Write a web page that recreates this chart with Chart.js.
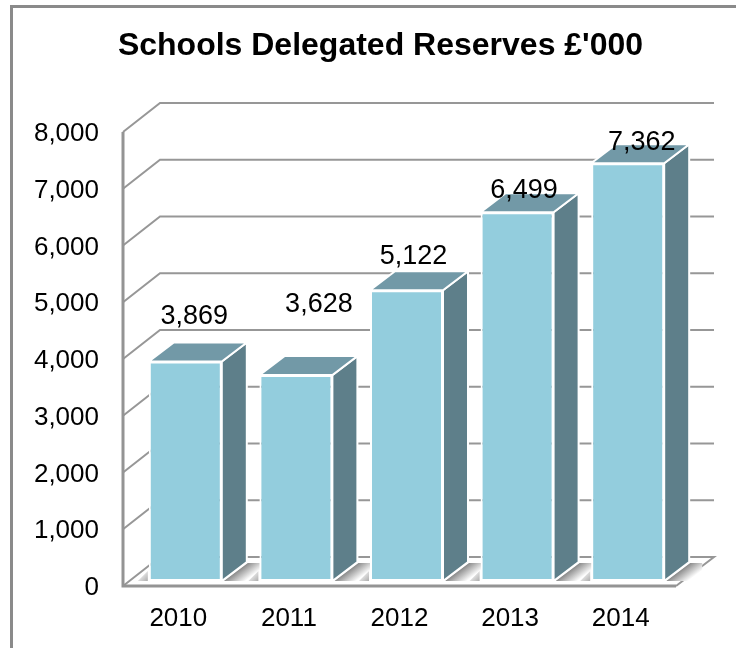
<!DOCTYPE html>
<html>
<head>
<meta charset="utf-8">
<style>html,body{margin:0;padding:0;background:#fff}canvas{display:block}</style>
<script src="https://cdn.jsdelivr.net/npm/chart.js@4/dist/chart.umd.min.js"></script>
</head>
<body>
<canvas id="chart" width="736" height="648"></canvas>
<script>
const years = ['2010', '2011', '2012', '2013', '2014'];
const reserves = [3869, 3628, 5122, 6499, 7362];
const titleText = "Schools Delegated Reserves £'000";
const yMax = 8000;
const yStep = 1000;
// Hand-placed value labels, relative to the top of each bar's front face
const labelNudgeX = [16, 30, 14, 14, 21];
const labelNudgeY = [-45, -71, -34, -22, -21];

const FONT = '"Liberation Sans", Arial, sans-serif';
const WALL = { dx: 37, dy: 29 };      // depth of the back wall
const BAR_SHIFT = { dx: 7, dy: -5 };  // bars stand part way into the floor
const BAR_DEPTH = { dx: 25, dy: 19 };
const FRONT = '#93CDDD', TOP_FACE = '#7299A7', SIDE_FACE = '#5E7F8A', GRID = '#979797';

function line(ctx, pts, color, width) {
  ctx.beginPath();
  pts.forEach((p, i) => i ? ctx.lineTo(p[0], p[1]) : ctx.moveTo(p[0], p[1]));
  ctx.strokeStyle = color;
  ctx.lineWidth = width;
  ctx.stroke();
}
function face(ctx, pts, fill, stroke) {
  ctx.beginPath();
  pts.forEach((p, i) => i ? ctx.lineTo(p[0], p[1]) : ctx.moveTo(p[0], p[1]));
  ctx.closePath();
  ctx.fillStyle = fill;
  ctx.fill();
  if (stroke) {
    ctx.strokeStyle = stroke;
    ctx.lineWidth = 2;
    ctx.stroke();
  }
}

const pseudo3d = {
  id: 'pseudo3d',
  afterLayout(chart) {
    // Left padding centres the title; give the tick labels room to its left
    chart.scales.y.left = 20;
  },
  beforeDraw(chart) {
    // Outer frame: only the left and top edges are present
    const ctx = chart.ctx;
    ctx.save();
    line(ctx, [[11.5, 648], [11.5, 6.5], [736, 6.5]], '#8a8a8a', 3);
    ctx.restore();
  },
  beforeDatasetsDraw(chart) {
    const ctx = chart.ctx, y = chart.scales.y, a = chart.chartArea;
    const backRight = a.right + WALL.dx + 1;
    ctx.save();
    for (let v = yStep; v <= yMax; v += yStep) {
      const py = y.getPixelForValue(v);
      line(ctx, [[a.left, py], [a.left + WALL.dx, py - WALL.dy], [backRight, py - WALL.dy]], GRID, 2);
    }
    // Floor
    const y0 = y.getPixelForValue(0);
    line(ctx, [[a.left, y0], [a.left + WALL.dx, y0 - WALL.dy], [backRight, y0 - WALL.dy], [a.right, y0]], GRID, 2);
    line(ctx, [[a.left, y.getPixelForValue(yMax)], [a.left, y0], [a.right, y0]], '#949494', 3);

    ctx.translate(BAR_SHIFT.dx, BAR_SHIFT.dy);
    const bars = chart.getDatasetMeta(0).data;
    bars.forEach((b) => {
      const l = b.x - b.width / 2, r = b.x + b.width / 2;
      const { dx, dy } = BAR_DEPTH;
      // Soft shadow cast on the floor beside the bar, darkest along its edge
      const g = ctx.createLinearGradient(r + 12, b.base - 10, r + 21, b.base + 2);
      g.addColorStop(0, '#787878');
      g.addColorStop(1, '#ffffff');
      face(ctx, [[r + 2, b.base], [r + dx + 1, b.base - dy + 1], [r + dx + 13, b.base - dy + 1], [r + dx + 13, b.base - 6], [r + 28, b.base]], g);
      const c = ctx.createLinearGradient(l - 9, b.base - 9, l, b.base);
      c.addColorStop(0, '#ffffff');
      c.addColorStop(1, '#a8a8a8');
      face(ctx, [[l - 1, b.base], [l - 1, b.base - 10], [l - 11, b.base]], c);
      face(ctx, [[r, b.y], [r + dx, b.y - dy], [r + dx, b.base - dy], [r, b.base]], SIDE_FACE, '#ffffff');
      face(ctx, [[l, b.y], [l + dx, b.y - dy], [r + dx, b.y - dy], [r, b.y]], TOP_FACE, '#ffffff');
    });
  },
  afterDatasetsDraw(chart) {
    const ctx = chart.ctx;
    ctx.restore();
    ctx.save();
    ctx.font = '27px ' + FONT;
    ctx.fillStyle = '#000';
    ctx.textAlign = 'center';
    ctx.textBaseline = 'middle';
    chart.getDatasetMeta(0).data.forEach((b, i) => {
      ctx.fillText(reserves[i].toLocaleString('en-US'), b.x + labelNudgeX[i], b.y + BAR_SHIFT.dy + labelNudgeY[i]);
    });
    ctx.restore();
  }
};

new Chart(document.getElementById('chart'), {
  type: 'bar',
  data: {
    labels: years,
    datasets: [{
      data: reserves,
      backgroundColor: FRONT,
      borderColor: '#ffffff',
      borderWidth: 2,
      borderSkipped: false,
      barPercentage: 0.66,
      categoryPercentage: 1,
      clip: false
    }]
  },
  options: {
    responsive: false,
    animation: false,
    layout: { padding: { left: 85, right: 60, top: 0, bottom: 0 } },
    plugins: {
      legend: { display: false },
      tooltip: { enabled: false },
      title: {
        display: true,
        text: titleText,
        color: '#000',
        font: { family: FONT, size: 32, weight: 'bold', lineHeight: 1.2 },
        padding: { top: 27, bottom: 66.6 }
      }
    },
    scales: {
      x: {
        grid: { display: false, drawTicks: false },
        border: { display: false },
        ticks: { color: '#000', font: { family: FONT, size: 26 }, padding: 17, maxRotation: 0 },
        afterFit(s) { s.height = 62; }
      },
      y: {
        min: 0,
        max: yMax,
        grid: { display: false, drawTicks: false },
        border: { display: false },
        ticks: {
          stepSize: yStep,
          color: '#000',
          font: { family: FONT, size: 26 },
          padding: 24,
          labelOffset: 2,
          callback: (v) => v.toLocaleString('en-US')
        },
        afterFit(s) { s.width = 38; }
      }
    }
  },
  plugins: [pseudo3d]
});
</script>
</body>
</html>
